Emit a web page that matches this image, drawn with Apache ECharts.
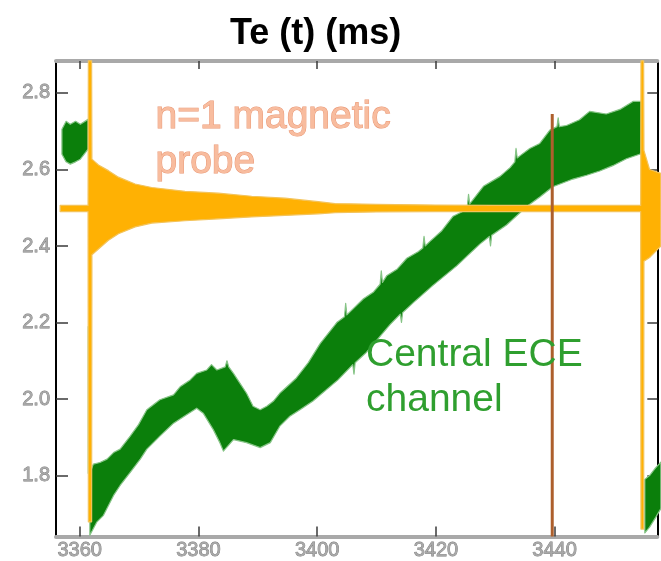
<!DOCTYPE html>
<html><head><meta charset="utf-8">
<script src="https://cdn.jsdelivr.net/npm/echarts@6/dist/echarts.min.js"></script>
<style>html,body{margin:0;padding:0;background:#fff}#c{width:661px;height:561px}</style>
</head><body><div id="c"></div>
<script>
// ---- axis ranges and ticks ----
const xRange = [3356.0, 3457.3];
const yRange = [1.6404, 2.8836];
const xTicks = [3360, 3380, 3400, 3420, 3440];
const yTicks = [1.8, 2.0, 2.2, 2.4, 2.6, 2.8];

// ---- n=1 magnetic probe (orange) envelope: time, lower, upper ----
const probeT  = [3356.7, 3361.4, 3361.45, 3362.0, 3362.05, 3363.15, 3364.83, 3366.52, 3369.33, 3372.14, 3377.74, 3383.35, 3388.97, 3394.58, 3400.18, 3403.0, 3410, 3420, 3430, 3440, 3454.5, 3454.55, 3455.0, 3455.05, 3456.0, 3457.9];
const probeLo = [2.490, 2.490, 1.679, 1.679, 2.377, 2.392, 2.415, 2.432, 2.450, 2.460, 2.466, 2.471, 2.476, 2.480, 2.484, 2.487, 2.489, 2.490, 2.490, 2.490, 2.490, 1.660, 1.660, 2.360, 2.370, 2.400];
const probeHi = [2.506, 2.506, 2.884, 2.884, 2.627, 2.612, 2.597, 2.580, 2.562, 2.553, 2.543, 2.538, 2.530, 2.525, 2.516, 2.511, 2.509, 2.507, 2.506, 2.506, 2.506, 2.884, 2.884, 2.650, 2.600, 2.590];

// ---- central ECE channel (green), first piece before crash ----
const eceAT  = [3357.0, 3357.7, 3358.4, 3359.3, 3360.1, 3361.4];
const eceALo = [2.640, 2.620, 2.614, 2.620, 2.627, 2.653];
const eceAHi = [2.705, 2.726, 2.718, 2.726, 2.718, 2.731];

// ---- central ECE channel, main ramp: upper edge ----
const eceTopT = [3361.75, 3362.3, 3363.4, 3364.6, 3365.7, 3366.8, 3368.5, 3369.9, 3371.3, 3373.5, 3375.8, 3376.9, 3378.6, 3379.7, 3381.4, 3382.2, 3383.1, 3384.5, 3384.8, 3385.1, 3385.9, 3387.0, 3388.1, 3389.2, 3390.4, 3391.5, 3392.6, 3393.7, 3394.9, 3396.5, 3398.5, 3400.5, 3403.3, 3404.6, 3404.8, 3405.0, 3407.8, 3409.5, 3410.6, 3410.8, 3411.0, 3411.7, 3413.5, 3415.1, 3417.0, 3417.8, 3418.0, 3418.2, 3419.0, 3421.0, 3422.9, 3424.5, 3425.3, 3425.5, 3425.7, 3426.3, 3428.0, 3430.8, 3432.5, 3433.3, 3433.5, 3433.7, 3434.1, 3435.8, 3437.5, 3439.2, 3440.4, 3440.6, 3440.8, 3442.0, 3444.2, 3445.9, 3448.7, 3451.0, 3453.2, 3454.6];
const eceTopV = [1.808, 1.830, 1.834, 1.843, 1.860, 1.869, 1.903, 1.933, 1.972, 1.998, 2.011, 2.032, 2.050, 2.067, 2.076, 2.090, 2.076, 2.084, 2.100, 2.084, 2.067, 2.041, 2.015, 1.981, 1.972, 1.981, 1.994, 2.015, 2.032, 2.055, 2.095, 2.145, 2.200, 2.215, 2.250, 2.220, 2.262, 2.280, 2.300, 2.335, 2.305, 2.322, 2.340, 2.368, 2.385, 2.395, 2.425, 2.400, 2.412, 2.440, 2.478, 2.490, 2.505, 2.535, 2.510, 2.522, 2.556, 2.582, 2.605, 2.620, 2.655, 2.630, 2.635, 2.655, 2.668, 2.703, 2.712, 2.735, 2.712, 2.715, 2.730, 2.752, 2.745, 2.757, 2.778, 2.778];
// ---- main ramp: lower edge ----
const eceBotT = [3361.7, 3362.9, 3364.0, 3365.7, 3366.8, 3368.5, 3370.2, 3371.3, 3373.5, 3375.8, 3378.0, 3379.7, 3380.8, 3382.5, 3383.6, 3384.2, 3385.9, 3388.1, 3390.4, 3392.1, 3393.7, 3395.4, 3397.1, 3399.3, 3403.5, 3406.0, 3406.2, 3406.4, 3408.3, 3412.3, 3414.0, 3414.2, 3414.4, 3416.2, 3419.5, 3423.5, 3427.4, 3429.0, 3429.2, 3429.4, 3431.9, 3435.3, 3437.5, 3439.7, 3443.1, 3445.4, 3447.6, 3449.8, 3452.1, 3454.3, 3454.6];
const eceBotV = [1.644, 1.679, 1.696, 1.748, 1.774, 1.808, 1.843, 1.869, 1.903, 1.937, 1.959, 1.976, 1.963, 1.920, 1.886, 1.864, 1.894, 1.886, 1.873, 1.886, 1.929, 1.955, 1.972, 1.995, 2.050, 2.090, 2.065, 2.095, 2.122, 2.195, 2.222, 2.200, 2.226, 2.252, 2.297, 2.348, 2.405, 2.425, 2.400, 2.428, 2.455, 2.503, 2.528, 2.555, 2.575, 2.585, 2.596, 2.610, 2.628, 2.640, 2.640];

// ---- after second crash ----
const eceCT  = [3455.2, 3456.0, 3457.0, 3457.9];
const eceCLo = [1.650, 1.665, 1.690, 1.714];
const eceCHi = [1.790, 1.800, 1.820, 1.835];

// ---- faint connecting trace at the first crash ----
const eceLinkT = [3361.45, 3361.45];
const eceLinkV = [2.190, 1.805];

// ---- marker line ----
const markT = [3439.6, 3439.6];
const markV = [1.6404, 2.745];

const zip = (a, b) => a.map((v, i) => [v, b[i]]);

function band(name, upper, lower, fill, stroke, z) {
  return {
    type: 'custom', name: name, coordinateSystem: 'cartesian2d',
    data: [upper[0]], encode: { x: 0, y: 1 }, silent: true, clip: false, z: z,
    renderItem: function (params, api) {
      if (params.dataIndex !== 0) return null;
      const pts = upper.concat(lower.slice().reverse()).map(p => api.coord(p));
      return { type: 'polygon', shape: { points: pts },
        style: { fill: fill, stroke: stroke, lineWidth: 1.2, lineJoin: 'round' } };
    }
  };
}

const GREEN = '#0b7f0b', GREEN_EDGE = '#86c486';
const ORANGE = '#ffb103', ORANGE_EDGE = '#f3c35a';

const chart = echarts.init(document.getElementById('c'), null, { renderer: 'canvas' });
const tickStyle = { color: '#3a3a3a', width: 1.5 };
const labelFont = { fontFamily: 'Liberation Sans', fontSize: 20, color: '#a8a8a8', textBorderColor: '#7a7a7a', textBorderWidth: 0.8 };

chart.setOption({
  animation: false,
  backgroundColor: '#ffffff',
  title: {
    text: 'Te (t) (ms)', left: 225, top: 11,
    textStyle: { fontFamily: 'Liberation Sans', fontWeight: 'bold', fontSize: 36, color: '#000' }
  },
  grid: { left: 56, right: 3.7, top: 61, bottom: 19.3, containLabel: false },
  xAxis: [
    { type: 'value', min: xRange[0], max: xRange[1], position: 'bottom',
      axisLine: { show: true, onZero: false, lineStyle: { color: '#a9a9a9', width: 4 } },
      axisTick: { show: true, inside: true, length: 10, customValues: xTicks, lineStyle: tickStyle },
      axisLabel: Object.assign({ customValues: xTicks, margin: 4, formatter: v => String(v) }, labelFont),
      splitLine: { show: false } },
    { type: 'value', min: xRange[0], max: xRange[1], position: 'top',
      axisLine: { show: true, onZero: false, lineStyle: { color: '#a9a9a9', width: 4 } },
      axisTick: { show: true, inside: true, length: 8, customValues: xTicks, lineStyle: tickStyle },
      axisLabel: { show: false }, splitLine: { show: false } }
  ],
  yAxis: [
    { type: 'value', min: yRange[0], max: yRange[1], position: 'left',
      axisLine: { show: true, onZero: false, lineStyle: { color: '#000', width: 2 } },
      axisTick: { show: true, inside: true, length: 12, customValues: yTicks, lineStyle: tickStyle },
      axisLabel: Object.assign({ customValues: yTicks, margin: 6, formatter: v => v.toFixed(1) }, labelFont),
      splitLine: { show: false } },
    { type: 'value', min: yRange[0], max: yRange[1], position: 'right',
      axisLine: { show: true, onZero: false, lineStyle: { color: '#000', width: 2 } },
      axisTick: { show: true, inside: true, length: 10, customValues: yTicks, lineStyle: tickStyle },
      axisLabel: { show: false }, splitLine: { show: false } }
  ],
  series: [
    band('Central ECE (pre)', zip(eceAT, eceAHi), zip(eceAT, eceALo), GREEN, GREEN_EDGE, 2),
    band('Central ECE channel', zip(eceTopT, eceTopV), zip(eceBotT, eceBotV), GREEN, GREEN_EDGE, 2),
    band('Central ECE (post)', zip(eceCT, eceCHi), zip(eceCT, eceCLo), GREEN, GREEN_EDGE, 2),
    { type: 'line', name: 'link', data: zip(eceLinkT, eceLinkV), symbol: 'none', silent: true, z: 2,
      lineStyle: { color: '#93c993', width: 1.5 } },
    band('n=1 magnetic probe', zip(probeT, probeHi), zip(probeT, probeLo), ORANGE, ORANGE_EDGE, 3),
    { type: 'line', name: 'marker', data: zip(markT, markV), symbol: 'none', silent: true, z: 4,
      lineStyle: { color: '#ad5f2c', width: 3 } }
  ],
  graphic: [
    { type: 'text', left: 155, top: 97, z: 10,
      style: { text: 'n=1 magnetic', font: '39px "Liberation Sans"', fill: '#f8bc9e', stroke: '#e99673', lineWidth: 1 } },
    { type: 'text', left: 155, top: 142, z: 10,
      style: { text: 'probe', font: '39px "Liberation Sans"', fill: '#f8bc9e', stroke: '#e99673', lineWidth: 1 } },
    { type: 'text', left: 366, top: 336, z: 10,
      style: { text: 'Central ECE', font: '39px "Liberation Sans"', fill: '#2f9f2f' } },
    { type: 'text', left: 366, top: 381, z: 10,
      style: { text: 'channel', font: '39px "Liberation Sans"', fill: '#2f9f2f' } }
  ]
});
</script></body></html>
